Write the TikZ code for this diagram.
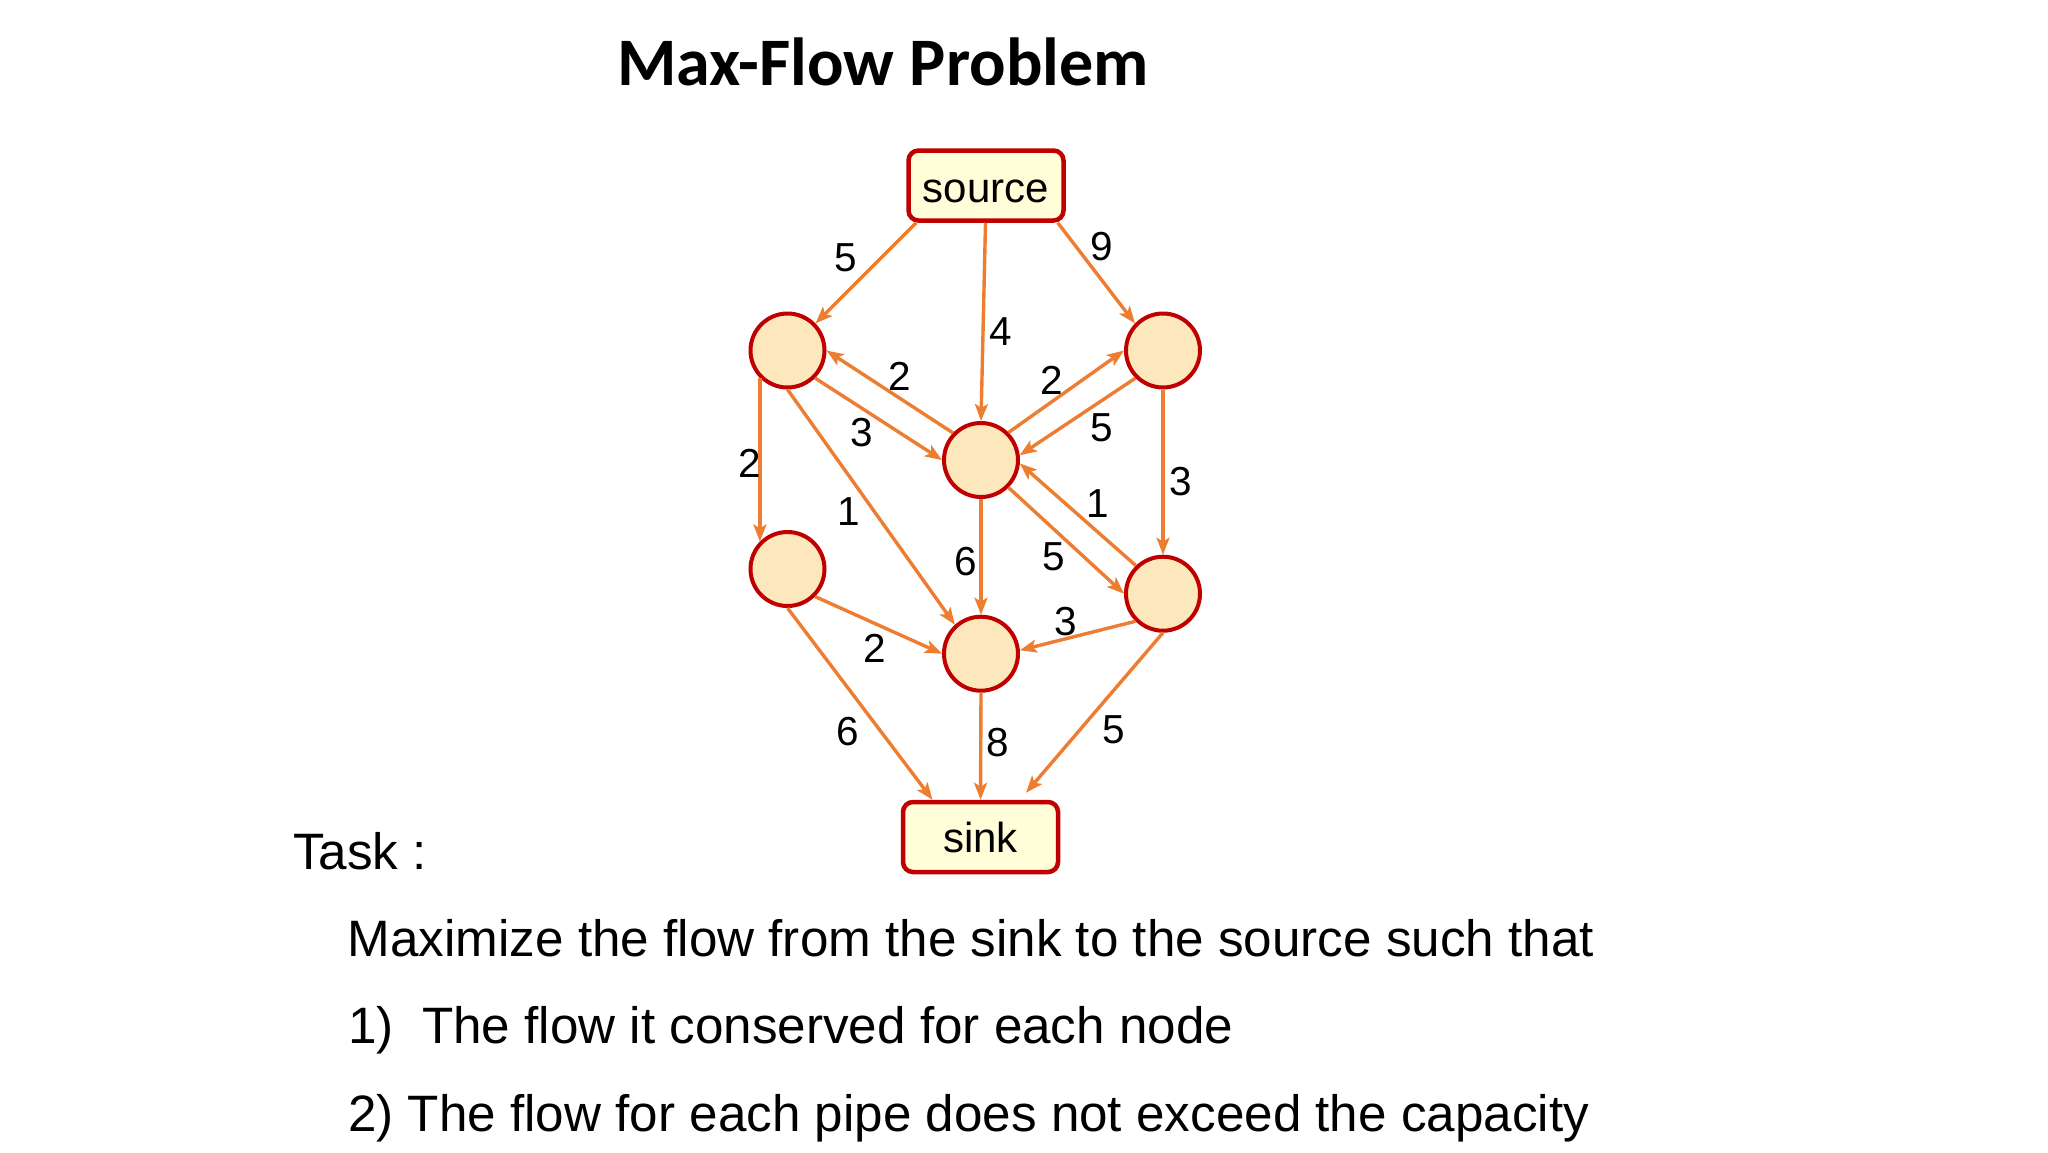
\documentclass[tikz,border=0pt]{standalone}
\usepackage{fontspec}
\setmainfont{Liberation Sans}
\newfontfamily\titlefont{Carlito}
\usetikzlibrary{arrows.meta}
\definecolor{edgeor}{HTML}{ED7D31}
\definecolor{bordred}{HTML}{C00000}
\definecolor{circfill}{HTML}{FDE8BE}
\definecolor{boxfill}{HTML}{FFFED8}
\tikzset{
  vert/.style={circle, draw=bordred, line width=4pt, fill=circfill, minimum size=74pt, inner sep=0pt},
  endbox/.style={rectangle, rounded corners=10pt, draw=bordred, line width=4.5pt, fill=boxfill,
    minimum width=155pt, minimum height=70pt, inner sep=0pt, text height=38pt, text depth=8pt,
    font=\fontsize{42}{50}\selectfont},
  flow/.style={draw=edgeor, line width=3.4pt, -{Stealth[length=17pt,width=13pt,inset=4pt]}},
  capnum/.style={inner sep=0pt, font=\fontsize{40.5}{48}\selectfont},
  bodytext/.style={inner sep=0pt, anchor=base west, font=\fontsize{51.2}{61}\selectfont},
}
\begin{document}
\begin{tikzpicture}[x=1pt,y=-1pt]
\useasboundingbox (0,0) rectangle (2048,1152);
\fill[white] (0,0) rectangle (2048,1152);

\node[inner sep=0pt, anchor=base, font=\titlefont\bfseries\fontsize{68}{80}\selectfont] (title) at (883,85) {Max-Flow Problem};

\node[endbox, text height=42pt] (source) at (986,185.5) {source};
\node[endbox] (sink) at (980.5,837) {sink};
\node[vert] (L1) at (787.5,350.5) {};
\node[vert] (R1) at (1163,350.5) {};
\node[vert] (C) at (981,460) {};
\node[vert] (L2) at (787.5,569) {};
\node[vert] (R2) at (1163,593.7) {};
\node[vert] (B) at (981,653.7) {};

\draw[flow] ([xshift=10pt]source.south west) -- (L1.44);
\draw[flow] ([xshift=-0.5pt]source.south) -- (C.north);
\draw[flow] ([xshift=-8pt]source.south east) -- (R1.136);
\draw[flow] (C.136) -- (L1.0);
\draw[flow] (L1.-45) -- (C.180);
\draw[flow] (C.45) -- (R1.180);
\draw[flow] (R1.225) -- (C.7);
\draw[flow] (L1.225) -- (L2.135);
\draw[flow] (L1.270) -- (B.132);
\draw[flow] (C.270) -- (B.90);
\draw[flow] (C.-45) -- (R2.180);
\draw[flow] (R2.134) -- (C.-5);
\draw[flow] (R1.270) -- (R2.90);
\draw[flow] (L2.-45) -- (B.180);
\draw[flow] (R2.225) -- (B.5);
\draw[flow] (L2.270) -- ([xshift=-48pt]sink.north);
\draw[flow] (B.270) -- (sink.north);
\draw[flow] (R2.270) -- ([xshift=45.5pt,yshift=7pt]sink.north);

\node[capnum] (c1) at (846,258) {5};
\node[capnum] (c2) at (1001,331.7) {4};
\node[capnum] (c3) at (1101.7,246.7) {9};
\node[capnum] (c4) at (900,376.7) {2};
\node[capnum] (c5) at (861.7,433) {3};
\node[capnum] (c6) at (1052,380) {2};
\node[capnum] (c7) at (1101.7,427.7) {5};
\node[capnum] (c8) at (750,463) {2};
\node[capnum] (c9) at (848.3,511.7) {1};
\node[capnum] (c10) at (966,561.7) {6};
\node[capnum] (c11) at (1053.3,556.7) {5};
\node[capnum] (c12) at (1097.7,503.3) {1};
\node[capnum] (c13) at (1180.7,481.7) {3};
\node[capnum] (c14) at (875,648.3) {2};
\node[capnum] (c15) at (1065.7,621.7) {3};
\node[capnum] (c16) at (847.3,731.7) {6};
\node[capnum] (c17) at (997.3,742.7) {8};
\node[capnum] (c18) at (1113.3,730) {5};

\node[bodytext] (task) at (293,869) {Task :};
\node[bodytext] (line0) at (347.5,956) {Maximize the flow from the sink to the source such that};
\node[bodytext] (line1) at (348,1043.5) {1)~~The flow it conserved for each node};
\node[bodytext] (line2) at (348,1131.7) {2) The flow for each pipe does not exceed the capacity};
\end{tikzpicture}
\end{document}
